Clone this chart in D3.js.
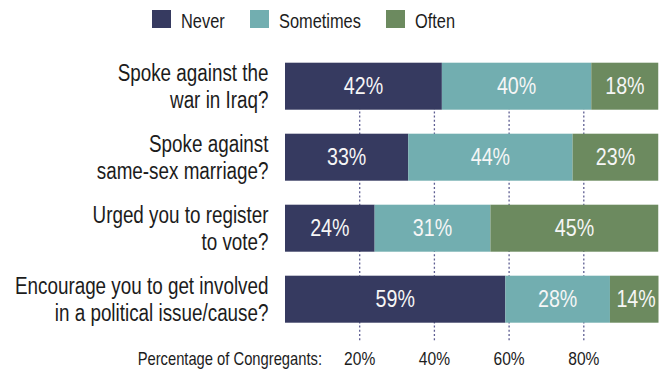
<!DOCTYPE html>
<html>
<head>
<meta charset="utf-8">
<script src="https://cdn.jsdelivr.net/npm/d3@7"></script>
<style>
  html, body { margin: 0; padding: 0; background: #ffffff; }
  svg { display: block; font-family: "Liberation Sans", Arial, sans-serif; }
</style>
</head>
<body>
<svg id="chart" width="663" height="371"></svg>
<script>
// Survey questions (two-line labels) and response shares in percent
const categories = [
  ["Spoke against the", "war in Iraq?"],
  ["Spoke against", "same-sex marriage?"],
  ["Urged you to register", "to vote?"],
  ["Encourage you to get involved", "in a political issue/cause?"]
];
const seriesNames = ["Never", "Sometimes", "Often"];
const never     = [42, 33, 24, 59];
const sometimes = [40, 44, 31, 28];
const often     = [18, 23, 45, 14];
const tickValues = [20, 40, 60, 80];
const axisTitle = "Percentage of Congregants:";
const colors = ["#363a60", "#72aeb0", "#6c8a5f"];

// Horizontal squeeze that gives the sans face a condensed look
const NARROW = 0.82;

const svg = d3.select("#chart");

// Places a condensed text whose anchor point sits at (x, y)
function narrowText(parent, x, y, str, size, anchor, fill) {
  return parent.append("text")
    .attr("transform", `translate(${x},${y}) scale(${NARROW},1)`)
    .attr("text-anchor", anchor)
    .attr("font-size", size)
    .attr("fill", fill)
    .text(str);
}

const keys = categories.map(c => c.join(" "));
const rows = keys.map((k, i) => ({ key: k, Never: never[i], Sometimes: sometimes[i], Often: often[i] }));
const stacked = d3.stack().keys(seriesNames)(rows);

const x = d3.scaleLinear().domain([0, 100]).range([285, 658.5]);
const y = d3.scaleBand().domain(keys).range([62.7, 322.7]).paddingInner(24 / 71).paddingOuter(0);
const color = d3.scaleOrdinal().domain(seriesNames).range(colors);

// Plot clip so a total over 100% stays inside the frame
svg.append("clipPath").attr("id", "plotClip")
  .append("rect").attr("x", x(0)).attr("y", 0).attr("width", x(100) - x(0)).attr("height", 371);

// Dotted reference lines at each tick
svg.append("g").selectAll("line").data(tickValues).join("line")
  .attr("x1", d => x(d)).attr("x2", d => x(d))
  .attr("y1", y(keys[0]) + y.bandwidth() / 2).attr("y2", 342)
  .attr("stroke", "#5e5e92").attr("stroke-width", 1.3)
  .attr("stroke-dasharray", "2,2.2");

// Stacked bars
const layer = svg.append("g").attr("clip-path", "url(#plotClip)")
  .selectAll("g").data(stacked).join("g").attr("fill", d => color(d.key));
layer.selectAll("rect").data(d => d).join("rect")
  .attr("x", d => x(d[0]))
  .attr("y", d => y(d.data.key))
  .attr("width", d => x(d[1]) - x(d[0]))
  .attr("height", y.bandwidth());

// Value labels inside segments
const labels = svg.append("g");
stacked.forEach(s => {
  s.forEach(d => {
    narrowText(labels,
      (x(d[0]) + x(d[1])) / 2,
      y(d.data.key) + y.bandwidth() / 2 + 7.6,
      (d[1] - d[0]) + "%", 24, "middle", "#f6f6f6");
  });
});

// Category labels, right-aligned, two lines each
const catG = svg.append("g");
categories.forEach((lines, i) => {
  const cy = y(keys[i]) + y.bandwidth() / 2;
  lines.forEach((ln, j) => {
    narrowText(catG, 268.5, cy + (j - 0.5) * 26.5 + 8.3, ln, 23, "end", "#1c1c1c");
  });
});

// Bottom axis labels at the tick positions
const axG = svg.append("g");
tickValues.forEach(v => {
  narrowText(axG, x(v), 365, v + "%", 19, "middle", "#1c1c1c");
});
narrowText(svg, 322, 365, axisTitle, 18, "end", "#1c1c1c");

// Legend
const legendX = [152, 250, 386];
const leg = svg.append("g").selectAll("g").data(seriesNames).join("g")
  .attr("transform", (d, i) => `translate(${legendX[i]},10)`);
leg.append("rect").attr("width", 19).attr("height", 18).attr("fill", d => color(d));
leg.each(function (d) {
  narrowText(d3.select(this), 29, 18, d, 20, "start", "#1c1c1c");
});
</script>
</body>
</html>
